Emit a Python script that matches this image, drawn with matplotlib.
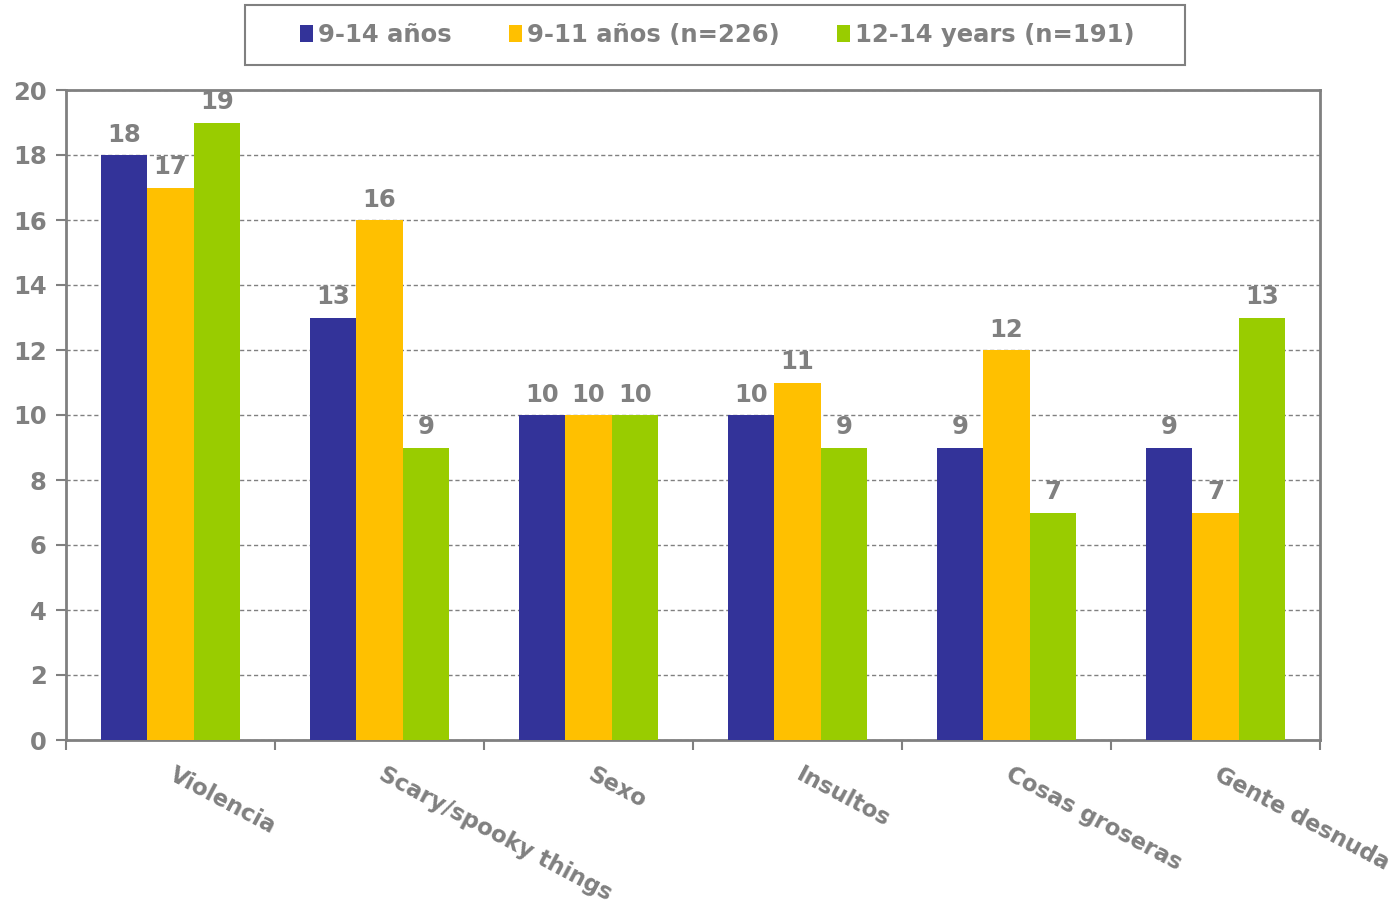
import matplotlib.pyplot as plt
import numpy as np
from matplotlib.patches import Rectangle

# data
categories = ["Violencia", "Scary/spooky things", "Sexo", "Insultos",
              "Cosas groseras", "Gente desnuda"]
series_names = ["9-14 años", "9-11 años (n=226)", "12-14 years (n=191)"]
v_all = [18, 13, 10, 10, 9, 9]
v_young = [17, 16, 10, 11, 12, 7]
v_old = [19, 9, 10, 9, 7, 13]
yticks = [0, 2, 4, 6, 8, 10, 12, 14, 16, 18, 20]

colors = ["#333399", "#FFC000", "#99CC00"]
gray = "#808080"
fs = 17.5

plt.rcParams['font.family'] = ['DejaVu Sans']
plt.rcParams['font.weight'] = 'bold'

fig = plt.figure(figsize=(13.96, 9.08), dpi=100)
ax = fig.add_axes([66/1396, 1-740/908, (1320-66)/1396, (740-90)/908])

x = np.arange(len(categories))
w = 0.223
for i, vals in enumerate([v_all, v_young, v_old]):
    pos = x + (i-1)*w
    ax.bar(pos, vals, width=w, color=colors[i], label=series_names[i], zorder=3)
    for p, v in zip(pos, vals):
        ax.annotate(str(v), (p, v), xytext=(0, 6), textcoords='offset points',
                    ha='center', va='bottom', fontsize=fs, color=gray,
                    fontweight='bold', zorder=4)

ax.set_xlim(-0.5, len(categories)-0.5)
ax.set_ylim(0, 20)
ax.set_yticks(yticks)
ax.yaxis.grid(True, linestyle=(0, (3, 2)), color="#808080", linewidth=1.0, zorder=0)
ax.set_xticks(np.arange(len(categories)+1) - 0.5, minor=False)
ax.set_xticklabels([])
ax.tick_params(axis='x', length=7, width=1.5, color=gray, direction='out')
ax.tick_params(axis='y', length=7, width=1.5, color=gray, direction='out',
               labelsize=fs, labelcolor=gray, pad=7)
for lbl in ax.get_yticklabels():
    lbl.set_fontweight('bold')
for s in ax.spines.values():
    s.set_color(gray)
    s.set_linewidth(2)

for xi, name in zip(x, categories):
    ax.text(xi + 0.03, -0.7, name, rotation=-28, rotation_mode='anchor',
            ha='left', va='top', fontsize=16.5, color=gray, fontweight='bold')

# legend box drawn separately (wider side padding than matplotlib allows)
fig.patches.append(Rectangle((245/1396, 1-65/908), 940/1396, 60/908,
                             transform=fig.transFigure, fill=False,
                             edgecolor=gray, linewidth=1.5))
leg = fig.legend(loc='center', bbox_to_anchor=(717/1396, 1-35/908), ncol=3,
                 frameon=False, fontsize=fs,
                 handlelength=0.55, handleheight=0.75, handletextpad=0.2,
                 columnspacing=2.35, borderpad=0.7, borderaxespad=0)
for t in leg.get_texts():
    t.set_color(gray)
    t.set_fontweight('bold')

plt.savefig("out.png", dpi=100)
